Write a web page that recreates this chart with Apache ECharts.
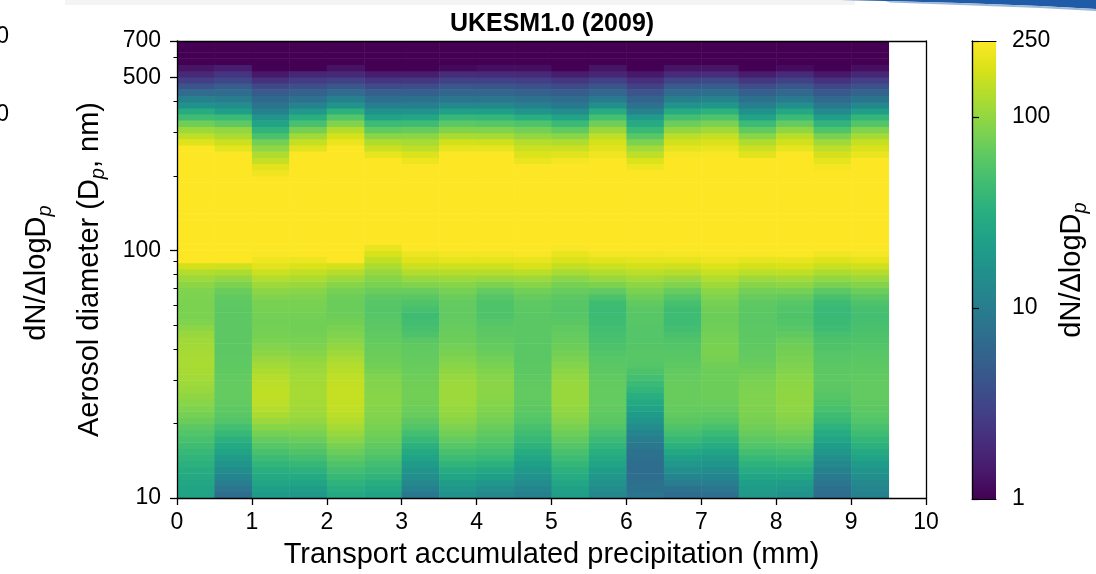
<!DOCTYPE html>
<html><head><meta charset="utf-8">
<script src="https://cdn.jsdelivr.net/npm/echarts@6/dist/echarts.min.js"></script>
<style>html,body{margin:0;padding:0;background:#fff}#chart{width:1096px;height:574px}</style>
</head><body><div id="chart"></div>
<script>
// ---- data ----
const chartTitle = 'UKESM1.0 (2009)';
const precipEdges = [0,0.5,1,1.5,2,2.5,3,3.5,4,4.5,5,5.5,6,6.5,7,7.5,8,8.5,9,9.5];
const diameterEdges = [10,10.59,11.22,11.89,12.59,13.34,14.13,14.96,15.85,16.79,17.78,18.84,19.95,21.13,22.39,23.71,25.12,26.61,28.18,29.85,31.62,33.5,35.48,37.58,39.81,42.17,44.67,47.32,50.12,53.09,56.23,59.57,63.1,66.83,70.79,74.99,79.43,84.14,89.13,94.41,100,105.9,112.2,118.9,125.9,133.4,141.3,149.6,158.5,167.9,177.8,188.4,199.5,211.3,223.9,237.1,251.2,266.1,281.8,298.5,316.2,335,354.8,375.8,398.1,421.7,446.7,473.2,501.2,530.9,562.3,595.7,631,668.3,700];
// dN/dlogDp per precipitation bin, listed from the smallest diameter bin upward
const c00 = [24,24,26,28,30,33,36,40,45,50,55,62,70,78,85,92,98,105,110,115,118,120,120,118,115,112,105,95,85,82,82,82,83,85,95,110,130,170,280,330,390,460,540,620,700,780,850,900,930,940,920,870,780,650,500,400,300,190,144,109,74,45,30,15.8,10.7,6.9,4.2,2.7,1.85,1.3,0.8,0.6,0.5,0.4];
const c05 = [7,8.5,10,12,14,17,20,24,28,33,40,47,55,60,63,65,66,66,66,65,64,63,63,62,62,62,62,62,62,62,62,63,64,70,82,100,125,165,260,330,390,460,540,620,700,780,850,900,930,940,920,870,780,650,500,350,200,161,121,100,63,42,22,14.1,9.9,7.1,5.0,3.25,2.3,1.5,0.8,0.6,0.5,0.4];
const c10 = [20,22,25,28,32,37,43,50,58,67,78,92,107,122,133,140,145,145,140,135,125,115,105,95,88,82,78,76,75,76,78,80,85,95,110,130,160,195,220,240,280,350,430,520,620,720,800,850,860,800,650,450,224,195,151,128,100,76,50.5,36,24.5,17,11,8.1,6.3,4.9,3.35,2.15,1.4,0.9,0.7,0.5,0.4,0.3];
const c15 = [19,21,24,28,33,39,46,54,62,70,80,90,100,108,113,116,118,118,116,114,110,105,98,90,84,80,76,75,75,76,78,80,84,92,105,125,150,180,215,270,330,400,480,560,640,720,790,840,870,880,860,800,700,560,420,300,195,151,112,77,50,32,18.6,11.3,7.7,5.5,3.75,2.55,1.75,0.9,0.7,0.5,0.4,0.3];
const c20 = [28,31,35,40,46,53,61,70,80,92,105,118,130,140,147,150,152,152,150,145,138,130,120,110,100,92,85,80,75,72,70,70,72,78,90,110,135,170,260,310,370,440,520,600,680,760,830,880,910,920,900,850,760,640,500,380,280,212,172,131,87,56,34,16.6,10.7,6.9,4.5,2.85,1.85,1.25,0.8,0.6,0.5,0.4];
const c25 = [24,27,31,36,41,46,52,58,64,70,75,80,84,88,90,92,92,90,88,85,80,75,72,70,68,66,64,62,60,58,57,58,62,70,80,90,105,125,150,175,210,270,330,400,480,560,640,700,740,750,720,640,520,400,290,206,161,128,93,64,43,24.5,15.8,10.2,7.3,5.25,3.55,2.3,1.5,0.9,0.7,0.5,0.4,0.3];
const c30 = [9,11,13,15,17,20,24,28,33,40,47,55,62,68,72,74,75,75,74,72,70,68,66,65,64,60,52,48,46,45,48,53,60,70,85,105,130,160,190,215,270,330,400,480,560,640,700,740,750,720,640,520,400,290,218,185,144,120,95,67,45,26,16.5,10.5,7.5,5.3,3.6,2.35,1.5,0.9,0.7,0.5,0.4,0.3];
const c35 = [16,18,21,25,30,36,43,50,58,66,75,84,92,99,104,108,110,110,108,104,98,92,86,80,76,72,70,68,66,65,65,66,70,78,90,110,135,165,200,230,270,330,400,480,560,640,720,790,840,870,880,860,800,700,540,380,206,169,121,87,61,39.5,23,12.7,8.6,6.2,4.4,2.85,1.95,1.1,0.8,0.6,0.5,0.4];
const c40 = [13,15,18,22,27,33,40,46,52,58,64,70,76,82,86,90,92,93,93,90,86,80,75,70,66,64,62,60,56,54,53,54,57,66,82,105,135,165,200,230,270,330,400,480,560,640,720,790,840,870,880,860,800,700,540,380,206,165,118,85,58,38,22,12.5,8.5,6.1,4.3,2.8,1.9,1.2,0.8,0.6,0.5,0.4];
const c45 = [11,12,14,16,19,22,26,30,35,40,45,50,55,59,62,64,65,65,64,63,62,61,60,60,60,60,60,60,60,60,61,63,67,75,90,110,140,175,210,240,270,330,400,480,560,640,700,740,750,720,640,520,400,290,212,185,161,135,100,76,53,32,17,11,7.7,5.5,3.9,2.7,1.85,1.2,0.8,0.6,0.5,0.4];
const c50 = [22,23,26,29,33,38,44,50,57,64,72,80,88,95,100,104,106,106,104,100,94,88,82,76,72,68,66,64,60,58,57,58,62,68,78,95,120,150,180,210,240,280,350,430,520,600,680,730,750,720,640,520,400,290,230,195,161,128,92,64,42,24.3,14.1,9.3,6.9,5.1,3.55,2.35,1.5,0.9,0.7,0.5,0.4,0.3];
const c55 = [13,14,16,18,21,24,28,32,37,42,48,55,60,63,65,66,66,66,65,64,62,60,58,55,52,50,48,46,44,43,43,45,52,65,82,105,130,160,195,230,270,330,400,480,560,640,710,760,780,760,700,600,480,360,270,220,195,173,144,106,74,48,30,15,9.5,6.5,4.3,2.8,1.75,1.3,0.8,0.6,0.5,0.4];
const c60 = [8.5,8,7.5,7,7,7,7.5,8,9,10,12,14,17,20,24,28,32,37,42,47,52,56,58,58,57,56,56,57,58,58,60,64,72,82,95,115,140,170,200,230,270,330,400,480,560,640,700,740,740,700,600,460,320,220,185,144,115,83,59,41,28.8,19.5,11.5,7.7,5.8,4.2,2.9,2.05,1.4,0.9,0.7,0.5,0.4,0.3];
const c65 = [7,8,10,12,15,18,22,27,33,40,47,54,60,64,67,68,69,69,68,67,65,63,60,58,56,54,50,46,44,44,45,48,56,68,85,105,135,165,200,235,270,330,400,480,560,640,710,760,780,760,700,600,480,360,260,234,202,169,139,100,72,47.5,30,16,10.5,7,4.8,3.1,1.9,1.3,0.8,0.6,0.5,0.4];
const c70 = [7.5,8.5,10,12,14,17,20,24,29,35,42,50,57,63,67,70,72,72,72,72,72,74,78,80,80,78,76,74,72,72,74,78,85,95,110,130,155,185,215,240,270,330,400,480,560,640,710,760,780,760,700,600,480,360,260,240,212,180,151,112,82,53,34,18,11.5,7.5,5.1,3.3,2.0,1.3,0.8,0.6,0.5,0.4];
const c75 = [19,20,22,25,29,34,40,47,55,62,68,74,79,82,84,85,85,84,82,78,74,70,67,65,64,63,62,61,60,60,61,63,68,76,90,110,140,170,205,240,270,330,400,480,560,640,700,740,750,720,640,520,400,300,260,195,161,128,92,64,43,24.5,15.8,10.5,7.5,5.3,3.6,2.35,1.5,0.9,0.7,0.5,0.4,0.3];
const c80 = [16,18,21,25,30,36,43,50,58,66,74,82,88,93,96,98,98,97,95,92,88,84,80,77,74,70,64,58,55,54,55,58,65,78,95,115,145,175,210,245,270,330,400,480,560,640,710,770,810,820,790,720,600,460,340,260,206,169,137,97,67,42,27.5,15,9.5,6.5,4.5,2.9,1.9,1.15,0.8,0.6,0.5,0.4];
const c85 = [7,7.5,8.5,9.5,11,13,15,18,21,25,29,34,40,45,50,54,57,60,62,63,62,60,58,56,54,52,48,44,42,41,41,43,50,62,80,100,125,155,190,225,280,350,430,520,610,690,740,740,690,580,440,330,270,230,200,172,144,112,81,53,36,21.8,13.4,8.9,6.35,4.7,3.2,2.15,1.4,0.9,0.7,0.5,0.4,0.3];
const c90 = [11,12,13,15,17,20,24,28,33,38,44,50,55,59,62,64,65,65,65,64,63,62,60,58,56,54,52,50,48,47,48,52,60,72,88,108,135,165,200,235,270,330,400,480,560,640,710,760,780,760,700,600,480,360,270,212,180,153,118,85,56.5,38,22,12.7,8.3,5.8,3.95,2.7,1.75,1.2,0.8,0.6,0.5,0.4];
const columns = [c00,c05,c10,c15,c20,c25,c30,c35,c40,c45,c50,c55,c60,c65,c70,c75,c80,c85,c90];
const xTicks = [0,1,2,3,4,5,6,7,8,9,10];
const yMajorTicks = [10,100,500,700];
const yMinorTicks = [20,30,40,50,60,70,80,90,200,300,400,600];
const cbarRange = [1,250];
const cbarTicks = [1,10,100,250];

// ---- style ----
const FONT = '"Liberation Sans", Arial, Helvetica, sans-serif';
const viridis = ['#440154','#481a6c','#472d7b','#424086','#3b528b','#33638d','#2c728e','#26828e','#21918c','#1fa088','#28ae80','#3fbc73','#5ec962','#84d44b','#addc30','#d8e219','#fde725'];

const logMax = Math.log10(cbarRange[1]);
const cells = [];
columns.forEach((col, i) => {
  col.forEach((v, k) => {
    const lvl = Math.min(1, Math.max(0, Math.log10(v) / logMax));
    cells.push([precipEdges[i], precipEdges[i] + 0.5, diameterEdges[k], diameterEdges[k + 1], v, lvl]);
  });
});

const chart = echarts.init(document.getElementById('chart'), null, {renderer: 'canvas'});
const black = '#000';
const axisLineStyle = {color: black, width: 1.3};
const NAME_SIZE = 29;
const TICK_SIZE = 23;
const subRich = {sub: {fontSize: 20, fontStyle: 'italic', fontFamily: FONT, verticalAlign: 'bottom', lineHeight: 20, color: black}};

const option = {
  animation: false,
  backgroundColor: '#fff',
  title: {text: chartTitle, left: 547, top: 7, textAlign: 'center',
    textStyle: {fontSize: 25, fontWeight: 'bold', color: black, fontFamily: FONT}},
  grid: [
    {left: 177, right: 170, top: 41, bottom: 75.5, show: false},
    {left: 972, width: 24, top: 41, bottom: 75, show: false}
  ],
  visualMap: {type: 'continuous', show: false, seriesIndex: 0, dimension: 5, min: 0, max: 1, inRange: {color: viridis}},
  xAxis: [
    {gridIndex: 0, type: 'value', min: 0, max: 10, interval: 1, position: 'bottom', z: 10,
      axisLine: {show: true, lineStyle: axisLineStyle},
      axisTick: {show: true, inside: false, length: 7, customValues: xTicks, lineStyle: axisLineStyle},
      axisLabel: {customValues: xTicks, fontSize: TICK_SIZE, color: black, fontFamily: FONT, margin: 13},
      splitLine: {show: false},
      name: 'Transport accumulated precipitation (mm)', nameLocation: 'middle', nameGap: 42,
      nameTextStyle: {fontSize: NAME_SIZE, color: black, fontFamily: FONT}},
    {gridIndex: 0, type: 'value', min: 0, max: 10, position: 'top', z: 10,
      axisLine: {show: true, lineStyle: axisLineStyle}, axisTick: {show: false}, axisLabel: {show: false}, splitLine: {show: false}},
    {gridIndex: 1, type: 'value', min: 0, max: 1, position: 'bottom', z: 10,
      axisLine: {show: true, lineStyle: {color: black, width: 1.2}}, axisTick: {show: false}, axisLabel: {show: false}, splitLine: {show: false}},
    {gridIndex: 1, type: 'value', min: 0, max: 1, position: 'top', z: 10,
      axisLine: {show: true, lineStyle: {color: black, width: 1.2}}, axisTick: {show: false}, axisLabel: {show: false}, splitLine: {show: false}}
  ],
  yAxis: [
    {gridIndex: 0, type: 'log', logBase: 10, min: 10, max: 700, position: 'left', z: 10,
      axisLine: {show: true, lineStyle: axisLineStyle},
      axisTick: {show: true, length: 7, customValues: yMajorTicks, lineStyle: axisLineStyle},
      axisLabel: {customValues: yMajorTicks, fontSize: TICK_SIZE, color: black, fontFamily: FONT, margin: 16},
      splitLine: {show: false}, minorTick: {show: false},
      name: 'Aerosol diameter (D{sub|p}, nm)', nameLocation: 'middle', nameRotate: 90, nameGap: 69,
      nameTextStyle: {fontSize: NAME_SIZE, color: black, fontFamily: FONT, lineHeight: 36, rich: subRich}},
    {gridIndex: 0, type: 'log', logBase: 10, min: 10, max: 700, position: 'left', z: 10,
      axisLine: {show: false},
      axisTick: {show: true, length: 3.5, customValues: yMinorTicks, lineStyle: {color: black, width: 1}},
      axisLabel: {show: false}, splitLine: {show: false}},
    {gridIndex: 0, type: 'log', logBase: 10, min: 10, max: 700, position: 'right', z: 10,
      axisLine: {show: true, lineStyle: axisLineStyle}, axisTick: {show: false}, axisLabel: {show: false}, splitLine: {show: false}},
    {gridIndex: 1, type: 'log', logBase: 10, min: cbarRange[0], max: cbarRange[1], position: 'left', z: 10,
      axisLine: {show: true, lineStyle: {color: black, width: 1.2}}, axisTick: {show: false}, axisLabel: {show: false}, splitLine: {show: false}},
    {gridIndex: 1, type: 'log', logBase: 10, min: cbarRange[0], max: cbarRange[1], position: 'right', z: 10,
      axisLine: {show: true, lineStyle: {color: black, width: 1.2}},
      axisTick: {show: true, length: 7, customValues: cbarTicks, lineStyle: {color: black, width: 1.2}},
      axisLabel: {customValues: cbarTicks, fontSize: TICK_SIZE, color: black, fontFamily: FONT, margin: 16},
      splitLine: {show: false},
      name: 'dN/ΔlogD{sub|p}', nameLocation: 'middle', nameRotate: 90, nameGap: 57,
      nameTextStyle: {fontSize: NAME_SIZE, color: black, fontFamily: FONT, lineHeight: 36, rich: subRich}}
  ],
  series: [
    {type: 'custom', coordinateSystem: 'cartesian2d', xAxisIndex: 0, yAxisIndex: 0, silent: true,
      encode: {x: [0, 1], y: [2, 3]}, data: cells,
      renderItem: function (params, api) {
        const p0 = api.coord([api.value(0), api.value(2)]);
        const p1 = api.coord([api.value(1), api.value(3)]);
        return {type: 'rect', shape: {x: p0[0], y: p1[1], width: p1[0] - p0[0] + 0.5, height: p0[1] - p1[1] + 0.5},
          style: {fill: api.visual('color')}};
      }},
    {type: 'custom', coordinateSystem: 'cartesian2d', xAxisIndex: 2, yAxisIndex: 4, silent: true,
      encode: {x: [0, 1], y: [2, 3]}, data: [[0, 1, cbarRange[0], cbarRange[1]]],
      renderItem: function (params, api) {
        const p0 = api.coord([api.value(0), api.value(2)]);
        const p1 = api.coord([api.value(1), api.value(3)]);
        const stops = viridis.map((c, i) => ({offset: i / (viridis.length - 1), color: c}));
        return {type: 'rect', shape: {x: p0[0], y: p1[1], width: p1[0] - p0[0], height: p0[1] - p1[1]},
          style: {fill: new echarts.graphic.LinearGradient(0, 1, 0, 0, stops)}};
      }}
  ],
  graphic: [
    {type: 'rect', left: 65, top: 0, shape: {width: 790, height: 5}, style: {fill: '#f4f4f4'}, silent: true, z: -1},
    {type: 'polygon', shape: {points: [[840, 0], [1096, 0], [1096, 9], [1040, 6], [960, 3], [885, 1]]}, style: {fill: '#1f5ba6'}, silent: true},
    {type: 'polygon', shape: {points: [[885, 1], [960, 3], [1040, 6], [1096, 9], [1096, 11], [1040, 8], [960, 5], [890, 2.5]]}, style: {fill: '#9db8d8'}, silent: true},
    {type: 'text', x: 9, y: 37, style: {text: '250', fontSize: TICK_SIZE, fontFamily: FONT, fill: black, align: 'right', verticalAlign: 'middle'}, silent: true},
    {type: 'text', x: 9, y: 115, style: {text: '100', fontSize: TICK_SIZE, fontFamily: FONT, fill: black, align: 'right', verticalAlign: 'middle'}, silent: true},
    {type: 'text', x: 37, y: 273, rotation: Math.PI / 2,
      style: {text: 'dN/ΔlogD{sub|p}', fontSize: NAME_SIZE, fontFamily: FONT, fill: black, align: 'center', verticalAlign: 'middle', lineHeight: 36, rich: subRich}, silent: true}
  ]
};
chart.setOption(option);
</script>
</body></html>
